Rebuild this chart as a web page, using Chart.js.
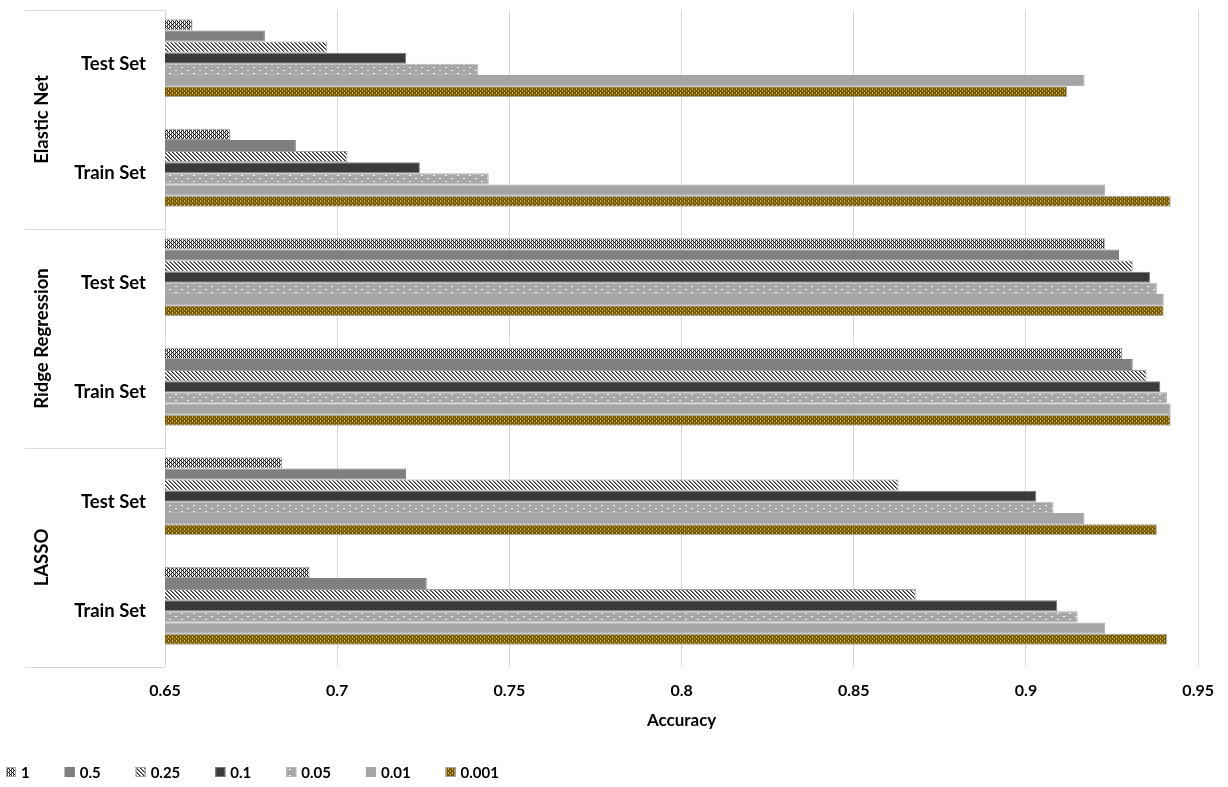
<!DOCTYPE html>
<html><head><meta charset="utf-8">
<script src="https://cdn.jsdelivr.net/npm/chart.js@4"></script>
<style>html,body{margin:0;padding:0;background:#fff;overflow:hidden}</style>
</head><body>
<canvas id="c" width="1228" height="787"></canvas>
<script>
// ---- data ----
const groups = ['Elastic Net', 'Ridge Regression', 'LASSO'];
const categories = ['Test Set', 'Train Set', 'Test Set', 'Train Set', 'Test Set', 'Train Set'];
const seriesNames = ['1', '0.5', '0.25', '0.1', '0.05', '0.01', '0.001'];
// values per category, top to bottom: EN Test, EN Train, RR Test, RR Train, LASSO Test, LASSO Train
const alpha_1     = [0.658, 0.669, 0.923, 0.928, 0.684, 0.692];
const alpha_0_5   = [0.679, 0.688, 0.927, 0.931, 0.720, 0.726];
const alpha_0_25  = [0.697, 0.703, 0.931, 0.935, 0.863, 0.868];
const alpha_0_1   = [0.720, 0.724, 0.936, 0.939, 0.903, 0.909];
const alpha_0_05  = [0.741, 0.744, 0.938, 0.941, 0.908, 0.915];
const alpha_0_01  = [0.917, 0.923, 0.940, 0.942, 0.917, 0.923];
const alpha_0_001 = [0.912, 0.942, 0.940, 0.942, 0.938, 0.941];
const xTickValues = [0.65, 0.7, 0.75, 0.8, 0.85, 0.9, 0.95];
const xTickLabels = ['0.65', '0.7', '0.75', '0.8', '0.85', '0.9', '0.95'];
const axisTitle = 'Accuracy';

const seriesValues = [alpha_1, alpha_0_5, alpha_0_25, alpha_0_1, alpha_0_05, alpha_0_01, alpha_0_001];

// ---- patterns ----
function makePattern(w, h, bg, pixels) {
  const c = document.createElement('canvas');
  c.width = w; c.height = h;
  const g = c.getContext('2d');
  g.fillStyle = bg; g.fillRect(0, 0, w, h);
  pixels.forEach(([x, y, col]) => { g.fillStyle = col; g.fillRect(x, y, 1, 1); });
  return g.createPattern(c, 'repeat');
}
const ctx = document.getElementById('c').getContext('2d');
function pat1() {
  const px = [];
  for (let x = 0; x < 4; x++) for (let y = 0; y < 4; y++) {
    if ((x + y) % 4 === 0 || (x - y + 4) % 4 === 0) px.push([x, y, '#1e1e1e']);
    else if ((x + y) % 2 === 1 && y % 2 === 0) px.push([x, y, '#8a8a8a']);
  }
  return makePattern(4, 4, '#ffffff', px);
}
function pat025() {
  const px = [];
  for (let x = 0; x < 4; x++) for (let y = 0; y < 4; y++) {
    const d = (x - y + 4) % 4;
    if (d === 0) px.push([x, y, '#2e2e2e']);
    else if (d === 1) px.push([x, y, '#8a8a8a']);
  }
  return makePattern(4, 4, '#ffffff', px);
}
function pat005() {
  return makePattern(12, 6, '#a9a6a6', [[1, 1, '#f4f4f4'], [2, 1, '#f4f4f4'], [7, 4, '#f4f4f4'], [8, 4, '#f4f4f4']]);
}
function pat0001() {
  const L = '#c4ae62';
  return makePattern(4, 4, '#7a5c04', [[0, 0, L], [0, 1, L], [2, 2, L], [2, 3, '#9c8128']]);
}
const fills = [pat1(), '#7f7f7f', pat025(), '#3a3a3a', pat005(), '#a5a5a5', pat0001()];
const borders = ['#a6a6a6', '#7f7f7f', '#a0a0a0', '#7a7a7a', '#b4b4b4', '#a5a5a5', '#a6a6a6'];

const datasets = seriesNames.map((name, k) => ({
  label: name,
  data: seriesValues[k].map((v, i) => ({ x: v, y: i })),
  backgroundColor: fills[k],
  borderColor: borders[k],
  borderWidth: 1,
  categoryPercentage: 0.712,
  barPercentage: 1
}));

const FONT = 'Lato';

const decor = {
  id: 'decor',
  afterDraw(chart) {
    const c = chart.ctx, a = chart.chartArea;
    const H = a.bottom - a.top;
    c.save();
    c.strokeStyle = '#d9d9d9'; c.lineWidth = 1;
    for (let k = 0; k <= groups.length; k++) {
      const y = Math.round(a.top + k * H / groups.length) + 0.5;
      c.beginPath(); c.moveTo(25, y); c.lineTo(a.left, y); c.stroke();
    }
    c.fillStyle = '#000';
    c.font = 'bold 18.5px ' + FONT;
    c.textAlign = 'right'; c.textBaseline = 'middle';
    categories.forEach((lab, i) => {
      c.fillText(lab, a.left - 19, a.top + (i + 0.5) * H / categories.length - 1);
    });
    groups.forEach((g, k) => {
      c.save();
      c.translate(42, a.top + (k + 0.5) * H / groups.length);
      c.rotate(-Math.PI / 2);
      c.textAlign = 'center'; c.textBaseline = 'middle';
      c.fillText(g, 0, 0);
      c.restore();
    });
    c.font = 'bold 15px ' + FONT;
    c.textAlign = 'left'; c.textBaseline = 'middle';
    let x = 6; const ly = 772;
    chart.data.datasets.forEach((ds) => {
      c.fillStyle = ds.backgroundColor;
      c.fillRect(x, ly - 5, 10, 10);
      c.strokeStyle = ds.borderColor; c.lineWidth = 1;
      c.strokeRect(x + 0.5, ly - 4.5, 9, 9);
      c.fillStyle = '#000';
      c.fillText(ds.label, x + 15, ly + 1);
      x += 15 + c.measureText(ds.label).width + 35;
    });
    c.restore();
  }
};

new Chart(ctx, {
  type: 'bar',
  data: { datasets },
  options: {
    responsive: false,
    animation: false,
    indexAxis: 'y',
    layout: { padding: { left: 165, right: 26, top: 10, bottom: 52 } },
    plugins: { legend: { display: false }, tooltip: { enabled: false } },
    scales: {
      y: {
        type: 'linear', reverse: true, min: -0.441, max: 5.559, display: false,
        offset: false, grace: 0, bounds: 'data',
        grid: { offset: false },
        afterBuildTicks: s => { s.ticks = categories.map((_, i) => ({ value: i })); }
      },
      x: {
        type: 'linear', min: 0.65, max: 0.95,
        afterBuildTicks: s => { s.ticks = xTickValues.map(v => ({ value: v })); },
        afterFit: s => { s.height = 68; },
        grid: { color: '#d9d9d9', drawTicks: false, lineWidth: 1 },
        border: { display: false },
        ticks: {
          color: '#000', padding: 14,
          font: { family: FONT, size: 16, weight: 'bold' },
          callback: (v, i) => xTickLabels[i]
        },
        title: {
          display: true, text: axisTitle, color: '#000',
          font: { family: FONT, size: 17, weight: 'bold' },
          padding: { top: 4, bottom: 4 }
        }
      }
    }
  },
  plugins: [decor]
});
</script>
</body></html>
